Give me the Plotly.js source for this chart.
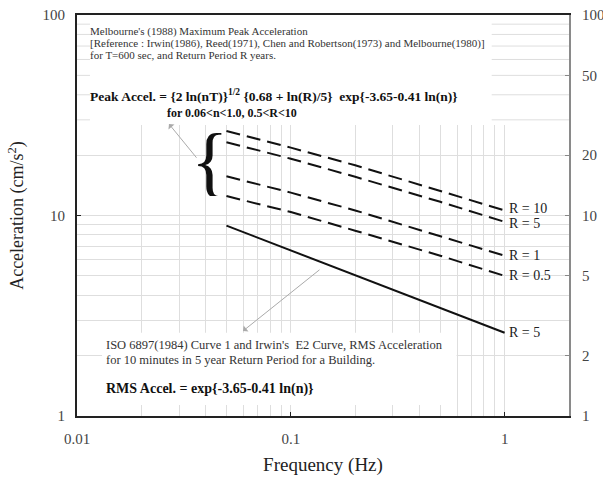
<!DOCTYPE html>
<html>
<head>
<meta charset="utf-8">
<script src="https://cdn.plot.ly/plotly-3.0.1.min.js"></script>
<style>html,body{margin:0;padding:0;background:#fff;}#chart{width:603px;height:482px;}</style>
</head>
<body>
<div id="chart"></div>
<script>
// ---- data ----
const freq = [0.05, 0.1, 0.2, 0.5, 1];
const peakR10 = [26.4, 21.8, 17.8, 13.3, 10.6];
const peakR5  = [23.2, 19.2, 15.6, 11.7, 9.3];
const peakR1  = [15.7, 13.0, 10.6, 7.9, 6.3];
const peakR05 = [12.5, 10.4, 8.4, 6.3, 5.0];
const rmsR5   = [8.9, 6.7, 5.0, 3.45, 2.6];
const seriesLabels = ["R = 10", "R = 5", "R = 1", "R = 0.5", "R = 5"];

const xTicks = [0.01, 0.1, 1];
const xTickText = ["0.01", "0.1", "1"];
const xGrid = [0.02,0.03,0.04,0.05,0.06,0.07,0.08,0.09,0.2,0.3,0.4,0.5,0.6,0.7,0.8,0.9];
const yTicksLeft = [1, 10, 100];
const yTicksRight = [1, 2, 5, 10, 20, 50, 100];
const yGrid = [2,3,4,5,6,7,8,9,20,30,40,50,60,70,80,90];
const topGridSegments = [30,40,50,60,70,80,90];

const SERIF = "Liberation Serif, Times New Roman, serif";
const GRID = "#dedede";

const dashStyle = {color: "#111", width: 2, dash: "14px,7px"};
const peakSeries = [peakR10, peakR5, peakR1, peakR05];
const traces = peakSeries.map(v => ({
  x: freq, y: v, type: "scatter", mode: "lines", line: dashStyle, hoverinfo: "skip"
}));
traces.push({x: freq, y: rmsR5, type: "scatter", mode: "lines",
  line: {color: "#111", width: 2}, hoverinfo: "skip"});
traces.push({x: [freq[0]], y: [rmsR5[0]], yaxis: "y2", type: "scatter", mode: "markers",
  marker: {opacity: 0}, hoverinfo: "skip"});

const labelShift = [2, -2, 0, 0, 0];
const allSeries = [peakR10, peakR5, peakR1, peakR05, rmsR5];
const annotations = [];
allSeries.forEach((s, i) => {
  annotations.push({
    x: Math.log10(freq[freq.length-1]), y: Math.log10(s[s.length-1]),
    xref: "x", yref: "y", text: seriesLabels[i], showarrow: false,
    xanchor: "left", yanchor: "middle", xshift: 3, yshift: labelShift[i],
    borderpad: 0,
    font: {family: SERIF, size: 14, color: "#222"}
  });
});

function px2paperX(p){ return (p - 77) / 492; }
function px2paperY(p){ return (416 - p) / 401; }

const textLines = [
  {t: "Melbourne's (1988) Maximum Peak Acceleration", x: 89, y: 31.5, bold: false, size: 11},
  {t: "[Reference : Irwin(1986), Reed(1971), Chen and Robertson(1973) and Melbourne(1980)]", x: 89, y: 43.5, bold: false, size: 11},
  {t: "for T=600 sec, and Return Period R years.", x: 89, y: 55.5, bold: false, size: 11},
  {t: "Peak Accel. = {2 ln(nT)}<sup>1/2</sup> {0.68 + ln(R)/5}  exp{-3.65-0.41 ln(n)}", x: 89, y: 95, bold: true, size: 13.5},
  {t: "for 0.06&lt;n&lt;1.0, 0.5&lt;R&lt;10", x: 165.5, y: 112.5, bold: true, size: 12},
  {t: "ISO 6897(1984) Curve 1 and Irwin's  E2 Curve, RMS Acceleration", x: 105, y: 345, bold: false, size: 12.5},
  {t: "for 10 minutes in 5 year Return Period for a Building.", x: 105, y: 359.5, bold: false, size: 12.5},
  {t: "RMS Accel. = exp{-3.65-0.41 ln(n)}", x: 105, y: 389, bold: true, size: 14}
];
textLines.forEach(l => {
  annotations.push({
    xref: "paper", yref: "paper", x: px2paperX(l.x), y: px2paperY(l.y),
    xanchor: "left", yanchor: "middle", showarrow: false, borderpad: 0,
    text: l.bold ? "<b>" + l.t + "</b>" : l.t,
    font: {family: SERIF, size: l.size, color: l.bold ? "#111" : "#333"}
  });
});

// brace
annotations.push({xref: "paper", yref: "paper", x: px2paperX(209), y: px2paperY(161),
  xanchor: "center", yanchor: "middle", showarrow: false, text: "{",
  height: 70, valign: "middle", borderpad: 0,
  font: {family: SERIF, size: 78, color: "#111"}});

// arrows
annotations.push({xref: "paper", yref: "paper", x: px2paperX(169), y: px2paperY(124),
  ax: 31, ay: 38, text: " ", showarrow: true, arrowhead: 1, arrowsize: 1.3,
  arrowwidth: 1, arrowcolor: "#aaa"});
annotations.push({xref: "paper", yref: "paper", x: px2paperX(243), y: px2paperY(331),
  ax: 80, ay: -64, text: " ", showarrow: true, arrowhead: 1, arrowsize: 1.3,
  arrowwidth: 1, arrowcolor: "#aaa"});

const shapes = [
  {type: "rect", xref: "x", yref: "y", x0: 0.01, x1: 2, y0: 28.3, y1: 100,
   fillcolor: "#fff", line: {width: 0}, layer: "between"},
  {type: "rect", xref: "x", yref: "y", x0: 0.0131, x1: 0.596, y0: 1.135, y1: 2.6,
   fillcolor: "#fff", line: {width: 0}, layer: "between"}
];
topGridSegments.forEach(v => {
  shapes.push({type: "line", xref: "x", yref: "y", x0: 0.01, x1: 0.0115, y0: v, y1: v,
    line: {color: GRID, width: 1}, layer: "between"});
  shapes.push({type: "line", xref: "x", yref: "y", x0: 0.87, x1: 2, y0: v, y1: v,
    line: {color: GRID, width: 1}, layer: "between"});
});

const layout = {
  width: 603, height: 482,
  margin: {l: 77, r: 34, t: 15, b: 66, pad: 0},
  paper_bgcolor: "#fff", plot_bgcolor: "#fff",
  showlegend: false,
  font: {family: SERIF, size: 14, color: "#444"},
  xaxis: {
    type: "log", range: [-2, Math.log10(2)],
    tickmode: "array", tickvals: xTicks, ticktext: xTickText,
    ticks: "inside", ticklen: 4, tickwidth: 1, tickcolor: "#222",
    showline: true, linecolor: "#222", linewidth: 2, mirror: true,
    showgrid: true, gridcolor: GRID, gridwidth: 1, zeroline: false,
    minor: {tickmode: "array", tickvals: xGrid, showgrid: true, gridcolor: GRID, gridwidth: 1, ticks: ""},
    ticklabelstandoff: 8,
    tickfont: {family: SERIF, size: 15, color: "#444"},
    title: {text: "Frequency (Hz)", standoff: 12, font: {family: SERIF, size: 19, color: "#222"}}
  },
  yaxis: {
    type: "log", range: [0, 2],
    tickmode: "array", tickvals: yTicksLeft, ticktext: yTicksLeft.map(String),
    ticks: "inside", ticklen: 4, tickwidth: 1, tickcolor: "#222",
    showline: true, linecolor: "#222", linewidth: 2,
    showgrid: true, gridcolor: GRID, gridwidth: 1, zeroline: false,
    minor: {tickmode: "array", tickvals: yGrid, showgrid: true, gridcolor: GRID, gridwidth: 1, ticks: ""},
    ticklabelstandoff: 7,
    tickfont: {family: SERIF, size: 15, color: "#444"},
    title: {text: "Acceleration (cm/s<sup>2</sup>)", standoff: 14, font: {family: SERIF, size: 18, color: "#222"}}
  },
  yaxis2: {
    type: "log", range: [0, 2], overlaying: "y", side: "right",
    tickmode: "array", tickvals: yTicksRight, ticktext: yTicksRight.map(String),
    ticks: "inside", ticklen: 4, tickwidth: 1, tickcolor: "#888",
    showline: true, linecolor: "#8a8a8a", linewidth: 2,
    showgrid: false, zeroline: false, ticklabelstandoff: 8,
    tickfont: {family: SERIF, size: 15, color: "#444"}
  },
  annotations: annotations,
  shapes: shapes
};

Plotly.newPlot("chart", traces, layout, {staticPlot: true, displayModeBar: false});
</script>
</body>
</html>
